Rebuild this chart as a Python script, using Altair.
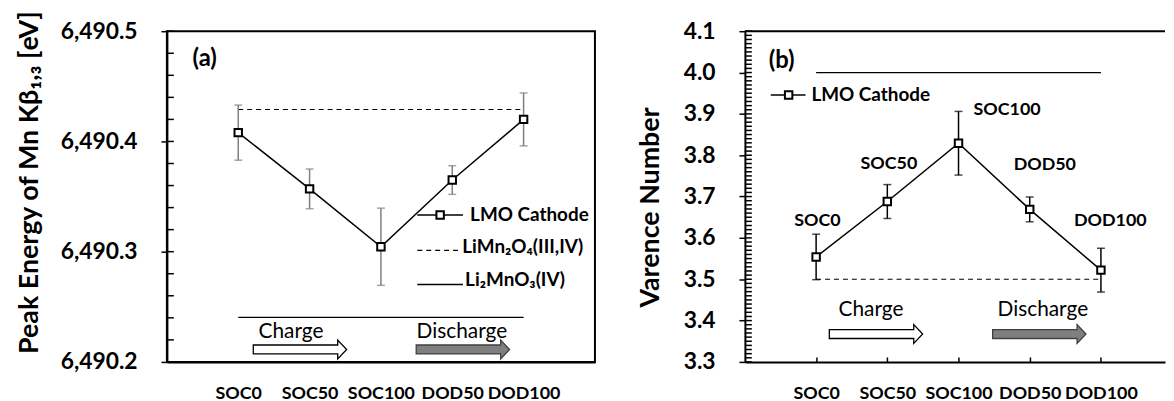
import altair as alt
import pandas as pd

# ---------------- data ----------------
CATEGORIES = ["SOC0", "SOC50", "SOC100", "DOD50", "DOD100"]
POSITIONS = [1, 2, 3, 4, 5]

PEAK_ENERGY = [6490.408, 6490.357, 6490.3045, 6490.365, 6490.420]
PEAK_ERR = [0.025, 0.018, 0.035, 0.013, 0.024]
LIMN2O4_ENERGY = 6490.429
LI2MNO3_ENERGY = 6490.2405

VALENCE = [3.554, 3.688, 3.829, 3.669, 3.522]
VALENCE_ERR = [0.055, 0.041, 0.077, 0.030, 0.053]
LIMN2O4_VALENCE = 3.5
LI2MNO3_VALENCE = 4.0

ENERGY_TICKS = [6490.2, 6490.3, 6490.4, 6490.5]
ENERGY_MINOR = [round(6490.2 + 0.02 * k, 2) for k in range(16)]
VALENCE_TICKS = [3.3, 3.4, 3.5, 3.6, 3.7, 3.8, 3.9, 4.0, 4.1]
VALENCE_MINOR = [round(3.3 + 0.01 * k, 2) for k in range(81)]

FONT = "Lato"
ARROW = "M -1 -0.096 L 0.809 -0.096 L 0.809 -0.202 L 1 0 L 0.809 0.202 L 0.809 0.096 L -1 0.096 Z"
LABEL_EXPR = "[''," + ",".join("'%s'" % c for c in CATEGORIES) + "][datum.value]"

W1, H1 = 431, 333
W2, H2 = 423, 333
INNER_TICK = 0.0975  # inside tick length in x-data units (~7px)


def X(scale, axis=None, field="pos"):
    return alt.X(f"{field}:Q", scale=scale, axis=axis, title=None)


def Y(scale, axis=None, field="val"):
    return alt.Y(f"{field}:Q", scale=scale, axis=axis, title=None)


def inner_ticks(values, xs, ys):
    df = pd.DataFrame({"y": values, "x": [0] * len(values), "x2": [INNER_TICK] * len(values)})
    return alt.Chart(df).mark_rule(color="black", strokeWidth=1.5).encode(
        x=X(xs, field="x"), x2="x2:Q", y=Y(ys, field="y"))


# ---------------- left panel ----------------
xs1 = alt.Scale(domain=[0, 6], nice=False, zero=False)
ys1 = alt.Scale(domain=[6490.2, 6490.5], nice=False, zero=False)

d1 = pd.DataFrame({
    "pos": POSITIONS, "cat": CATEGORIES, "val": PEAK_ENERGY,
    "lo": [v - e for v, e in zip(PEAK_ENERGY, PEAK_ERR)],
    "hi": [v + e for v, e in zip(PEAK_ENERGY, PEAK_ERR)],
})

l_line = alt.Chart(d1).mark_line(color="black", strokeWidth=1.5).encode(
    x=X(xs1, alt.Axis(values=POSITIONS, labelExpr=LABEL_EXPR, tickSize=0, labelPadding=23,
                      labelFontSize=18, grid=False)),
    y=Y(ys1, alt.Axis(values=ENERGY_TICKS, format=",.1f", tickSize=6, labelPadding=24,
                      labelFontSize=23, grid=False,
                      title="Peak Energy of Mn Kβ₁,₃ [eV]", titleFontSize=27,
                      titleX=-138, titleY=152, titleBaseline="middle", titleAlign="center")),
)
l_ticks = inner_ticks(ENERGY_MINOR, xs1, ys1)
l_err = alt.Chart(d1).mark_errorbar(ticks=True, size=8, thickness=1.5, color="#7f7f7f").encode(
    x=X(xs1), y=alt.Y("lo:Q", scale=ys1, axis=None, title=None), y2="hi:Q",
)
l_pts = alt.Chart(d1).mark_point(shape="square", filled=True, fill="white", stroke="black",
                                 strokeWidth=2, size=56, opacity=1).encode(x=X(xs1), y=Y(ys1))

l_dash = alt.Chart(pd.DataFrame({"x": [1], "x2": [5], "y": [LIMN2O4_ENERGY]})).mark_rule(
    color="black", strokeWidth=1.2, strokeDash=[5, 4]).encode(
    x=X(xs1, field="x"), x2="x2:Q", y=Y(ys1, field="y"))
l_solid = alt.Chart(pd.DataFrame({"x": [1], "x2": [5], "y": [LI2MNO3_ENERGY]})).mark_rule(
    color="black", strokeWidth=1.2).encode(
    x=X(xs1, field="x"), x2="x2:Q", y=Y(ys1, field="y"))

# legend (left)
l_leg_solid = alt.Chart(pd.DataFrame({"x": [3.51, 3.51], "x2": [4.15, 4.15],
                                      "y": [6490.3333, 6490.2703]})).mark_rule(
    color="black", strokeWidth=1.5).encode(x=X(xs1, field="x"), x2="x2:Q", y=Y(ys1, field="y"))
l_leg_dash = alt.Chart(pd.DataFrame({"x": [3.51], "x2": [4.08], "y": [6490.3012]})).mark_rule(
    color="black", strokeWidth=1.2, strokeDash=[5, 4]).encode(
    x=X(xs1, field="x"), x2="x2:Q", y=Y(ys1, field="y"))
l_leg_pt = alt.Chart(pd.DataFrame({"x": [3.83], "y": [6490.3333]})).mark_point(
    shape="square", filled=True, fill="white", stroke="black", strokeWidth=2, size=56, opacity=1
).encode(x=X(xs1, field="x"), y=Y(ys1, field="y"))
l_leg_txt = alt.Chart(pd.DataFrame({
    "x": [4.25, 4.14, 4.18], "y": [6490.3333, 6490.3045, 6490.2745],
    "t": ["LMO Cathode", "LiMn₂O₄(III,IV)", "Li₂MnO₃(IV)"]})).mark_text(
    font=FONT, fontSize=19, fontWeight="bold", align="left", baseline="middle", clip=True, color="black"
).encode(x=X(xs1, field="x"), y=Y(ys1, field="y"), text="t:N")

l_ann = alt.Chart(pd.DataFrame({"x": [0.53], "y": [6490.4748], "t": ["(a)"]})).mark_text(
    font=FONT, fontSize=24, fontWeight="bold", align="center", baseline="middle", color="black"
).encode(x=X(xs1, field="x"), y=Y(ys1, field="y"), text="t:N")
l_cd = alt.Chart(pd.DataFrame({"x": [1.74, 4.135], "y": [6490.2270, 6490.2270],
                               "t": ["Charge", "Discharge"]})).mark_text(
    font=FONT, fontSize=21, align="center", baseline="middle", color="black"
).encode(x=X(xs1, field="x"), y=Y(ys1, field="y"), text="t:N")
l_arr_w = alt.Chart(pd.DataFrame({"x": [1.865], "y": [6490.2113]})).mark_point(
    shape=ARROW, size=8836, filled=True, fill="white", stroke="black", strokeWidth=1.3, opacity=1
).encode(x=X(xs1, field="x"), y=Y(ys1, field="y"))
l_arr_g = alt.Chart(pd.DataFrame({"x": [4.149], "y": [6490.2113]})).mark_point(
    shape=ARROW, size=8836, filled=True, fill="#7f7f7f", stroke="#404040", strokeWidth=1.3, opacity=1
).encode(x=X(xs1, field="x"), y=Y(ys1, field="y"))

left = alt.layer(
    l_line, l_ticks, l_dash, l_solid, l_err, l_pts,
    l_leg_solid, l_leg_dash, l_leg_pt, l_leg_txt, l_ann, l_cd, l_arr_w, l_arr_g
).resolve_axis(x="independent", y="independent").properties(
    width=W1, height=H1, view=alt.ViewBackground(stroke="black", strokeWidth=2))

# ---------------- right panel ----------------
xs2 = alt.Scale(domain=[0, 5.9], nice=False, zero=False)
ys2 = alt.Scale(domain=[3.3, 4.1], nice=False, zero=False)

d2 = pd.DataFrame({
    "pos": POSITIONS, "cat": CATEGORIES, "val": VALENCE,
    "lo": [v - e for v, e in zip(VALENCE, VALENCE_ERR)],
    "hi": [v + e for v, e in zip(VALENCE, VALENCE_ERR)],
})

r_line = alt.Chart(d2).mark_line(color="black", strokeWidth=1.5).encode(
    x=X(xs2, alt.Axis(values=POSITIONS, labelExpr=LABEL_EXPR, tickSize=0, labelPadding=23,
                      labelFontSize=18, grid=False)),
    y=Y(ys2, alt.Axis(values=VALENCE_TICKS, format=".1f", tickSize=6, labelPadding=24,
                      labelFontSize=23, grid=False,
                      title="Varence Number", titleFontSize=27,
                      titleX=-95, titleY=177, titleBaseline="middle", titleAlign="center")),
)
r_xticks = alt.Chart(d2).mark_line(strokeOpacity=0).encode(
    x=X(xs2, alt.Axis(orient="top", offset=-H2, values=POSITIONS, tickSize=5,
                      labels=False, domain=False, grid=False, title=None)),
    y=Y(ys2),
)
r_ticks = inner_ticks(VALENCE_MINOR, xs2, ys2)
r_err = alt.Chart(d2).mark_errorbar(ticks=True, size=8, thickness=1.5, color="black").encode(
    x=X(xs2), y=alt.Y("lo:Q", scale=ys2, axis=None, title=None), y2="hi:Q",
)
r_pts = alt.Chart(d2).mark_point(shape="square", filled=True, fill="white", stroke="black",
                                 strokeWidth=2, size=56, opacity=1).encode(x=X(xs2), y=Y(ys2))
r_dash = alt.Chart(pd.DataFrame({"x": [1], "x2": [5], "y": [LIMN2O4_VALENCE]})).mark_rule(
    color="black", strokeWidth=1.2, strokeDash=[5, 4]).encode(
    x=X(xs2, field="x"), x2="x2:Q", y=Y(ys2, field="y"))
r_solid = alt.Chart(pd.DataFrame({"x": [1], "x2": [5], "y": [LI2MNO3_VALENCE]})).mark_rule(
    color="black", strokeWidth=1.2).encode(
    x=X(xs2, field="x"), x2="x2:Q", y=Y(ys2, field="y"))
r_top = alt.Chart(pd.DataFrame({"x": [0], "x2": [5.9], "y": [4.1]})).mark_rule(
    color="black", strokeWidth=2).encode(
    x=X(xs2, field="x"), x2="x2:Q", y=Y(ys2, field="y"))

r_leg_line = alt.Chart(pd.DataFrame({"x": [0.363], "x2": [0.851], "y": [3.9458]})).mark_rule(
    color="black", strokeWidth=1.5).encode(x=X(xs2, field="x"), x2="x2:Q", y=Y(ys2, field="y"))
r_leg_pt = alt.Chart(pd.DataFrame({"x": [0.614], "y": [3.9458]})).mark_point(
    shape="square", filled=True, fill="white", stroke="black", strokeWidth=2, size=56, opacity=1
).encode(x=X(xs2, field="x"), y=Y(ys2, field="y"))
r_leg_txt = alt.Chart(pd.DataFrame({"x": [0.934], "y": [3.9458], "t": ["LMO Cathode"]})).mark_text(
    font=FONT, fontSize=19, fontWeight="bold", align="left", baseline="middle", color="black"
).encode(x=X(xs2, field="x"), y=Y(ys2, field="y"), text="t:N")

r_ann = alt.Chart(pd.DataFrame({"x": [0.516], "y": [4.0277], "t": ["(b)"]})).mark_text(
    font=FONT, fontSize=24, fontWeight="bold", align="center", baseline="middle", color="black"
).encode(x=X(xs2, field="x"), y=Y(ys2, field="y"), text="t:N")
r_lab = alt.Chart(pd.DataFrame({
    "x": [1.018, 2.022, 3.682, 4.212, 5.132],
    "y": [3.6398, 3.7795, 3.9096, 3.7771, 3.6398],
    "t": CATEGORIES})).mark_text(
    font=FONT, fontSize=18, fontWeight="bold", align="center", baseline="middle", color="black"
).encode(x=X(xs2, field="x"), y=Y(ys2, field="y"), text="t:N")
r_cd = alt.Chart(pd.DataFrame({"x": [1.771, 4.184], "y": [3.4253, 3.4253],
                               "t": ["Charge", "Discharge"]})).mark_text(
    font=FONT, fontSize=21, align="center", baseline="middle", color="black"
).encode(x=X(xs2, field="x"), y=Y(ys2, field="y"), text="t:N")
r_arr_w = alt.Chart(pd.DataFrame({"x": [1.841], "y": [3.3675]})).mark_point(
    shape=ARROW, size=8836, filled=True, fill="white", stroke="black", strokeWidth=1.3, opacity=1
).encode(x=X(xs2, field="x"), y=Y(ys2, field="y"))
r_arr_g = alt.Chart(pd.DataFrame({"x": [4.135], "y": [3.3675]})).mark_point(
    shape=ARROW, size=8836, filled=True, fill="#7f7f7f", stroke="#404040", strokeWidth=1.3, opacity=1
).encode(x=X(xs2, field="x"), y=Y(ys2, field="y"))

right = alt.layer(
    r_line, r_xticks, r_ticks, r_top, r_dash, r_solid, r_err, r_pts,
    r_leg_line, r_leg_pt, r_leg_txt, r_ann, r_lab, r_cd, r_arr_w, r_arr_g
).resolve_axis(x="independent", y="independent").properties(
    width=W2, height=H2, view=alt.ViewBackground(strokeOpacity=0))

chart = alt.hconcat(left, right, spacing=41).configure(
    padding={"left": 6, "top": 0, "right": 0, "bottom": 0}
).configure_axis(
    labelFont=FONT, titleFont=FONT, labelFontWeight="bold", titleFontWeight="bold",
    labelColor="black", titleColor="black", domainColor="black", tickColor="black",
    domainWidth=2, tickWidth=1.5,
)

chart.save("out.html", embed_options={"renderer": "svg", "actions": False})
